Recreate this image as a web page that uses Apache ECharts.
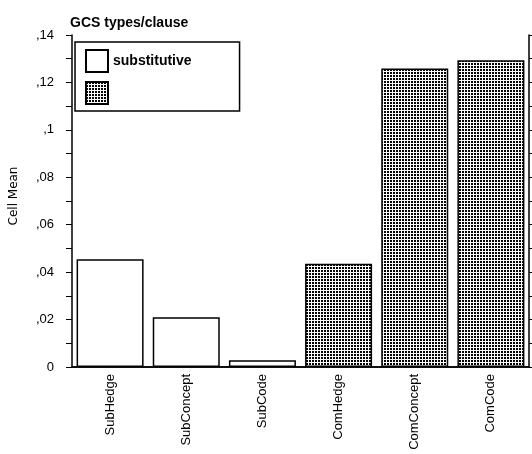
<!DOCTYPE html>
<html>
<head>
<meta charset="utf-8">
<script src="https://cdn.jsdelivr.net/npm/echarts@6/dist/echarts.min.js"></script>
<style>
  html, body { margin: 0; padding: 0; background: #fff; }
  #chart { width: 532px; height: 454px; }
</style>
</head>
<body>
<div id="chart"></div>
<script>
(function(){
    'use strict';

    var categories = ['SubHedge', 'SubConcept', 'SubCode', 'ComHedge', 'ComConcept', 'ComCode'];
    var subValues = [0.0454, 0.0210, 0.0028, '-', '-', '-'];   // substitutive
    var comValues = ['-', '-', '-', 0.0435, 0.1259, 0.1294];   // second group (no legend text)
    var seriesNames = ['substitutive', ' '];

    // dotted fill like the original print pattern
    function makePattern(){
        var c = document.createElement('canvas');
        c.width = 3;
        c.height = 3;
        var ctx = c.getContext('2d');
        ctx.fillStyle = '#fff';
        ctx.fillRect(0, 0, 3, 3);
        ctx.fillStyle = '#000';
        ctx.fillRect(0, 0, 2, 2);
        return c;
    }

    function tickText(v){
        if (v === 0) return '0';
        var s = v.toFixed(2).replace(/0+$/, '');
        return s.replace(/^0\./, ',');
    }

    var axisBlack = { lineStyle: { color: '#000', width: 1.5 } };

    var myChart = echarts.init(document.getElementById('chart'), null, { renderer: 'canvas' });
    var option = {
        animation: false,
        title: {
            text: 'GCS types/clause',
            left: 65,
            top: 11,
            textStyle: { fontFamily: 'Liberation Sans', fontSize: 14, fontWeight: 'bold', color: '#000' }
        },
        legend: {
            data: seriesNames,
            orient: 'vertical',
            left: 75,
            top: 42,
            itemWidth: 22,
            itemHeight: 22,
            itemGap: 8,
            icon: 'rect',
            backgroundColor: '#fff',
            borderColor: '#000',
            borderWidth: 1.5,
            padding: [7, 48, 6, 10],
            textStyle: { fontFamily: 'Liberation Sans', fontSize: 14, fontWeight: 'bold', color: '#000' }
        },
        grid: {
            left: 69,
            right: 3,
            top: 35,
            bottom: 87,
            containLabel: false
        },
        xAxis: [
            {
                type: 'category',
                data: categories,
                position: 'bottom',
                axisLine: axisBlack,
                axisTick: { alignWithLabel: true, length: 4, lineStyle: { color: '#000' } },
                axisLabel: {
                    interval: 0,
                    rotate: 90,
                    margin: 7,
                    fontFamily: 'Liberation Sans',
                    fontSize: 13,
                    color: '#000'
                },
                splitLine: { show: false }
            },
            {
                type: 'category',
                data: categories,
                position: 'top',
                axisLine: axisBlack,
                axisTick: { alignWithLabel: true, length: 4, lineStyle: { color: '#000' } },
                axisLabel: { show: false },
                splitLine: { show: false }
            }
        ],
        yAxis: [
            {
                type: 'value',
                name: 'Cell Mean',
                nameLocation: 'middle',
                nameGap: 52,
                nameRotate: 90,
                nameTextStyle: { fontFamily: 'DejaVu Sans', fontSize: 12, color: '#000', padding: [0, 0, 0, 10] },
                min: 0,
                max: 0.14,
                interval: 0.02,
                axisLine: { show: true, lineStyle: { color: '#000', width: 1.5 } },
                axisTick: { show: true, length: 6, lineStyle: { color: '#000' } },
                minorTick: { show: true, splitNumber: 2, length: 6, lineStyle: { color: '#000' } },
                axisLabel: {
                    margin: 18,
                    fontFamily: 'Liberation Sans',
                    fontSize: 13,
                    color: '#000',
                    formatter: tickText
                },
                splitLine: { show: false }
            },
            {
                type: 'value',
                position: 'right',
                min: 0,
                max: 0.14,
                interval: 0.01,
                axisLine: { show: true, lineStyle: { color: '#000', width: 1.5 } },
                axisTick: { show: true, length: 5, lineStyle: { color: '#000' } },
                axisLabel: { show: false },
                splitLine: { show: false }
            }
        ],
        series: [
            {
                name: seriesNames[0],
                type: 'bar',
                data: subValues,
                barWidth: 67,
                barGap: '-100%',
                itemStyle: { color: '#fff', borderColor: '#000', borderWidth: 1.5 }
            },
            {
                name: seriesNames[1],
                type: 'bar',
                data: comValues,
                barWidth: 67,
                barGap: '-100%',
                itemStyle: {
                    color: { image: makePattern(), repeat: 'repeat' },
                    borderColor: '#000',
                    borderWidth: 1.5
                }
            }
        ]
    };
    myChart.setOption(option);
})();
</script>
</body>
</html>
